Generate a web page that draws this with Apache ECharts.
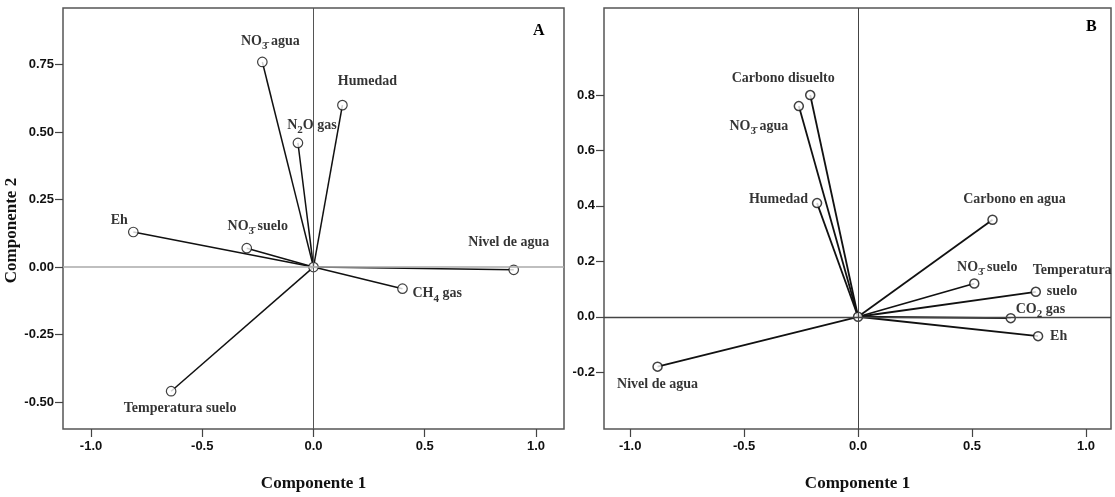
<!DOCTYPE html>
<html>
<head>
<meta charset="utf-8">
<script src="https://cdn.jsdelivr.net/npm/echarts@6/dist/echarts.min.js"></script>
<style>
  html, body { margin: 0; padding: 0; background: #fff; }
  #chart { width: 1115px; height: 497px; }
</style>
</head>
<body>
<div id="chart"></div>
<script>
// Component loadings, panel A
const varsA  = ['NO₃⁻ agua', 'Humedad', 'N₂O gas', 'Eh', 'NO₃⁻ suelo', 'Nivel de agua', 'CH₄ gas', 'Temperatura suelo'];
const comp1A = [-0.23, 0.13, -0.07, -0.81, -0.30, 0.90, 0.40, -0.64];
const comp2A = [0.76, 0.60, 0.46, 0.13, 0.07, -0.01, -0.08, -0.46];

// Component loadings, panel B
const varsB  = ['Carbono disuelto', 'NO₃⁻ agua', 'Humedad', 'Carbono en agua', 'NO₃⁻ suelo', 'Temperatura suelo', 'CO₂ gas', 'Eh', 'Nivel de agua'];
const comp1B = [-0.21, -0.26, -0.18, 0.59, 0.51, 0.78, 0.67, 0.79, -0.88];
const comp2B = [0.80, 0.76, 0.41, 0.35, 0.12, 0.09, -0.005, -0.07, -0.18];

// Tick values
const xTicks  = [-1.0, -0.5, 0.0, 0.5, 1.0];
const yTicksA = [-0.50, -0.25, 0.00, 0.25, 0.50, 0.75];
const yTicksB = [-0.2, 0.0, 0.2, 0.4, 0.6, 0.8];

// Label placement around each point: [dx, dy, align]
const placeA = {
  'NO₃⁻ agua':         [8, -21, 'center'],
  'Humedad':           [25, -24, 'center'],
  'N₂O gas':           [14, -18, 'center'],
  'Eh':                [-14, -12, 'center'],
  'NO₃⁻ suelo':        [11, -22, 'center'],
  'Nivel de agua':     [-5, -27, 'center'],
  'CH₄ gas':           [10, 5, 'left'],
  'Temperatura suelo': [9, 17, 'center']
};
const placeB = {
  'Carbono disuelto':  [-27, -17, 'center'],
  'NO₃⁻ agua':         [-40, 20, 'center'],
  'Humedad':           [-9, -4, 'right'],
  'Carbono en agua':   [22, -20, 'center'],
  'NO₃⁻ suelo':        [13, -16, 'center'],
  'Temperatura suelo': [-3, -11, 'left'],
  'CO₂ gas':           [5, -9, 'left'],
  'Eh':                [12, 0, 'left'],
  'Nivel de agua':     [0, 18, 'center']
};
const wrapB = { 'Temperatura suelo': 'Temperatura\n    suelo' };

const tickFont = "'Liberation Sans Narrow', 'Arial Narrow', 'Liberation Sans', sans-serif";
const serif = "'Liberation Serif', 'Times New Roman', serif";

// Chemical formulas: small, lowered digits
function markup(s) {
  return s.replace('₃⁻', '{sub|3\u0304}').replace('₂', '{sub|2}').replace('₄', '{sub|4}');
}

function xAxis(gridIndex, min, max) {
  return {
    type: 'value', gridIndex, min, max,
    axisLine: { show: false, onZero: false },
    splitLine: { show: false },
    axisTick: { show: true, length: 8, customValues: xTicks, lineStyle: { color: '#444', width: 1.2 } },
    axisLabel: {
      customValues: xTicks, formatter: v => v.toFixed(1), margin: 11,
      color: '#111', fontFamily: tickFont, fontWeight: 'bold', fontSize: 13
    },
    name: 'Componente 1', nameLocation: 'middle', nameGap: 46,
    nameTextStyle: { fontFamily: serif, fontWeight: 'bold', fontSize: 17, color: '#111' }
  };
}

function yAxis(gridIndex, min, max, ticks, digits, name) {
  return {
    type: 'value', gridIndex, min, max,
    axisLine: { show: false, onZero: false },
    splitLine: { show: false },
    axisTick: { show: true, length: 8, customValues: ticks, lineStyle: { color: '#444', width: 1.2 } },
    axisLabel: {
      customValues: ticks, formatter: v => v.toFixed(digits), margin: 9,
      color: '#111', fontFamily: tickFont, fontWeight: 'bold', fontSize: 13
    },
    name: name || '', nameLocation: 'middle', nameGap: 35,
    nameTextStyle: { fontFamily: serif, fontWeight: 'bold', fontSize: 17, color: '#111', padding: [0, 24, 0, 0] }
  };
}

function vectorSeries(axis, xs, ys, width) {
  return xs.map((x, i) => ({
    type: 'line', xAxisIndex: axis, yAxisIndex: axis,
    data: [[0, 0], [x, ys[i]]],
    symbol: 'none', silent: true, animation: false, z: 2,
    lineStyle: { color: '#111', width }
  }));
}

function zeroLines(axis, vColor, vWidth, hColor, hWidth) {
  return {
    type: 'line', xAxisIndex: axis, yAxisIndex: axis, data: [], z: 1,
    markLine: {
      silent: true, animation: false, symbol: ['none', 'none'], label: { show: false },
      data: [
        { xAxis: 0, lineStyle: { color: vColor, width: vWidth, type: 'solid' } },
        { yAxis: 0, lineStyle: { color: hColor, width: hWidth, type: 'solid' } }
      ]
    }
  };
}

function pointSeries(axis, names, xs, ys, place, wrap, size, border) {
  const items = names.map((n, i) => ({
    name: n,
    value: [xs[i], ys[i]],
    label: { offset: [place[n][0], place[n][1]], align: place[n][2] }
  }));
  items.unshift({ name: '', value: [0, 0], label: { show: false } });
  return {
    type: 'scatter', xAxisIndex: axis, yAxisIndex: axis, z: 3, animation: false,
    symbol: 'circle', symbolSize: size,
    itemStyle: { color: '#fff', borderColor: '#111', borderWidth: border },
    label: {
      show: true, position: 'inside', verticalAlign: 'middle',
      formatter: p => markup((wrap && wrap[p.name]) || p.name),
      fontFamily: serif, fontWeight: 'bold', fontSize: 14, color: '#000', lineHeight: 21,
      rich: {
        sub: { fontFamily: serif, fontWeight: 'bold', fontSize: 11, color: '#000', verticalAlign: 'bottom', padding: [4, 0, 0, 0] }
      }
    },
    data: items
  };
}

const chart = echarts.init(document.getElementById('chart'), null, { renderer: 'canvas' });
chart.setOption({
  backgroundColor: '#fff',
  animation: false,
  grid: [
    { left: 63, top: 8, width: 501, height: 427, show: true, borderColor: '#555', borderWidth: 1.5, containLabel: false },
    { left: 604, top: 8, width: 507, height: 428, show: true, borderColor: '#555', borderWidth: 1.5, containLabel: false }
  ],
  xAxis: [xAxis(0, -1.126, 1.126), xAxis(1, -1.115, 1.11)],
  yAxis: [
    yAxis(0, -0.60, 0.96, yTicksA, 2, 'Componente 2'),
    yAxis(1, -0.405, 1.114, yTicksB, 1)
  ],
  graphic: [
    { type: 'text', left: 533, top: 23, style: { text: 'A', fontFamily: serif, fontWeight: 'bold', fontSize: 16, fill: '#000' } },
    { type: 'text', left: 1086, top: 19, style: { text: 'B', fontFamily: serif, fontWeight: 'bold', fontSize: 16, fill: '#000' } }
  ],
  series: [
    zeroLines(0, '#555', 1, '#aaa', 1.5),
    zeroLines(1, '#444', 1, '#444', 1.3),
    ...vectorSeries(0, comp1A, comp2A, 1.5),
    ...vectorSeries(1, comp1B, comp2B, 1.8),
    pointSeries(0, varsA, comp1A, comp2A, placeA, null, 9.5, 1.2),
    pointSeries(1, varsB, comp1B, comp2B, placeB, wrapB, 9, 1.5)
  ]
});
</script>
</body>
</html>
